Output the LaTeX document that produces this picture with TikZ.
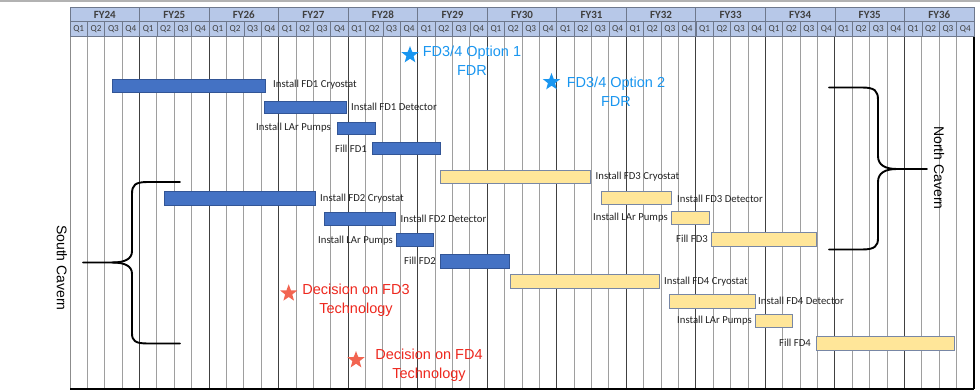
\documentclass[tikz,border=0pt]{standalone}
\usepackage{fontspec}
\setmainfont{Liberation Sans}
\newfontfamily\calf{Carlito}
\usetikzlibrary{shapes.geometric}
\definecolor{hdrblue}{RGB}{183,200,232}
\definecolor{hdrline}{RGB}{110,120,140}
\definecolor{barblue}{RGB}{68,114,196}
\definecolor{barblueedge}{RGB}{50,85,150}
\definecolor{baryel}{RGB}{255,230,153}
\definecolor{baryeledge}{RGB}{120,135,165}
\definecolor{msblue}{RGB}{25,150,240}
\definecolor{msred}{RGB}{238,40,30}
\definecolor{starred}{RGB}{242,100,80}
\definecolor{lbltxt}{RGB}{35,35,35}
\tikzset{
  bluebar/.style={fill=barblue,draw=barblueedge,line width=0.6pt},
  yelbar/.style={fill=baryel,draw=baryeledge,line width=0.8pt},
  barlbl/.style={font=\calf\fontsize{10.7}{12}\selectfont,text=lbltxt,inner sep=0pt},
  yrlbl/.style={font=\calf\bfseries\fontsize{11}{12}\selectfont,text=black!75,inner sep=0pt},
  qlbl/.style={font=\calf\fontsize{9.2}{10}\selectfont,text=black!75,inner sep=0pt},
  mstar/.style={star,star points=5,star point ratio=2.4,minimum size=18pt,inner sep=0pt,draw=none},
  mstext/.style={font=\fontsize{14.5}{18.8}\selectfont,align=center,inner sep=0pt},
  cavern/.style={font=\fontsize{14}{16}\selectfont,rotate=-90,inner sep=0pt},
  bracel/.style={line width=1.9pt,black,line cap=round,line join=round},
  qline/.style={draw=black!38,line width=0.9pt},
  yline/.style={draw=black!75,line width=1pt}
}
\begin{document}
\begin{tikzpicture}[x=1pt,y=-1pt]
\useasboundingbox (0,0) rectangle (980,390);
\fill[white] (0,0) rectangle (980,390);
% top grey rule
\draw[black!30,line width=1.5pt] (0,1) -- (980,1);
% grid body
\foreach \i in {1,...,51}{
  \draw[qline] ({70+\i*17.3846},37) -- ({70+\i*17.3846},389);
}
\foreach \i in {4,8,...,48}{
  \draw[yline] ({70+\i*17.3846},37) -- ({70+\i*17.3846},389);
}
\draw[black!45,line width=1pt] (70,37) -- (70,389);
\draw[black,line width=1.2pt] (974,37) -- (974,389);
\draw[black,line width=1.6pt] (70,389) -- (974,389);
% header
\fill[hdrblue] (70,7.3) rectangle (974,36.7);
\draw[hdrline,line width=0.8pt] (70,7.3) rectangle (974,36.7);
\draw[hdrline,line width=0.8pt] (70,21.8) -- (974,21.8);
\foreach \i in {1,...,51}{
  \draw[hdrline,line width=0.6pt] ({70+\i*17.3846},21.8) -- ({70+\i*17.3846},36.7);
}
\foreach \y [count=\k from 0] in {24,...,36}{
  \draw[hdrline,line width=0.8pt] ({70+\k*69.5385},7.3) -- ({70+\k*69.5385},36.7);
  \node[yrlbl] (fy\y) at ({70+\k*69.5385+34.77},14.8) {FY\y};
  \foreach \q in {1,...,4}{
    \node[qlbl] (q\y\q) at ({70+\k*69.5385+(\q-0.5)*17.3846},29.4) {Q\q};
  }
}
% FD1 bars
\draw[bluebar] (112,79.5) rectangle (265,92);
\node[barlbl,anchor=west] (lc1) at (273,85) {Install FD1 Cryostat};
\draw[bluebar] (264,101) rectangle (346,113.5);
\node[barlbl,anchor=west] (ld1) at (351,107.2) {Install FD1 Detector};
\draw[bluebar] (337,122) rectangle (375,134.5);
\node[barlbl,anchor=east] (lp1) at (331,128) {Install LAr Pumps};
\draw[bluebar] (372,142) rectangle (440,154.5);
\node[barlbl,anchor=east] (lf1) at (367,148.3) {Fill FD1};
% FD2 bars
\draw[bluebar] (164.5,191) rectangle (315,205);
\node[barlbl,anchor=west] (lc2) at (320,199) {Install FD2 Cryostat};
\draw[bluebar] (324,212) rectangle (395.5,225);
\node[barlbl,anchor=west] (ld2) at (400.5,219) {Install FD2 Detector};
\draw[bluebar] (396,233) rectangle (433,246.5);
\node[barlbl,anchor=east] (lp2) at (393,240.5) {Install LAr Pumps};
\draw[bluebar] (440.5,254) rectangle (509.5,268);
\node[barlbl,anchor=east] (lf2) at (436,260.5) {Fill FD2};
% FD3 bars
\draw[yelbar] (440.5,170) rectangle (590,183.5);
\node[barlbl,anchor=west] (lc3) at (595.5,176.5) {Install FD3 Cryostat};
\draw[yelbar] (601,191.5) rectangle (671,204.5);
\node[barlbl,anchor=west] (ld3) at (677,199) {Install FD3 Detector};
\draw[yelbar] (671,211.5) rectangle (709,224.5);
\node[barlbl,anchor=east] (lp3) at (668,218) {Install LAr Pumps};
\draw[yelbar] (711,232.5) rectangle (816,246);
\node[barlbl,anchor=east] (lf3) at (708,239) {Fill FD3};
% FD4 bars
\draw[yelbar] (510,274.5) rectangle (659,288.5);
\node[barlbl,anchor=west] (lc4) at (664,282) {Install FD4 Cryostat};
\draw[yelbar] (669.5,294.5) rectangle (755.5,308.5);
\node[barlbl,anchor=west] (ld4) at (758,301) {Install FD4 Detector};
\draw[yelbar] (755.5,314.5) rectangle (792.5,327.5);
\node[barlbl,anchor=east] (lp4) at (752,321) {Install LAr Pumps};
\draw[yelbar] (816,336) rectangle (954,350);
\node[barlbl,anchor=east] (lf4) at (811,343) {Fill FD4};
% milestones
\node[mstar,fill=msblue] (s1) at (410,55) {};
\node[mstext,text=msblue] (t1) at (472,60.5) {FD3/4 Option 1\\FDR};
\node[mstar,fill=msblue] (s2) at (551.5,82) {};
\node[mstext,text=msblue] (t2) at (616,92) {FD3/4 Option 2\\FDR};
\node[mstar,fill=starred] (s3) at (288.7,293.3) {};
\node[mstext,text=msred] (t3) at (356,300) {Decision on FD3\\Technology};
\node[mstar,fill=starred] (s4) at (356,360) {};
\node[mstext,text=msred] (t4) at (429,365.5) {Decision on FD4\\Technology};
% braces
\draw[bracel] (829,87.5) -- (862,87.5) .. controls (875,87.5) and (878,91) .. (878,100) -- (878,156) .. controls (878,165) and (885,169) .. (897,169) -- (927,169);
\draw[bracel] (897,169) .. controls (885,169) and (878,173) .. (878,182) -- (878,238) .. controls (878,246) and (875,249.5) .. (862,249.5) -- (829,249.5);
\draw[bracel] (180,182) -- (148,182) .. controls (135,182) and (132,185) .. (132,194) -- (132,251) .. controls (132,259) and (125,262.5) .. (112,262.5) -- (83,262.5);
\draw[bracel] (112,262.5) .. controls (125,262.5) and (132,266) .. (132,274) -- (132,333) .. controls (132,341) and (135,343.5) .. (148,343.5) -- (180,343.5);
\node[cavern] (north) at (939,168) {North Cavern};
\node[cavern] (south) at (62,268) {South Cavern};
\end{tikzpicture}
\end{document}
